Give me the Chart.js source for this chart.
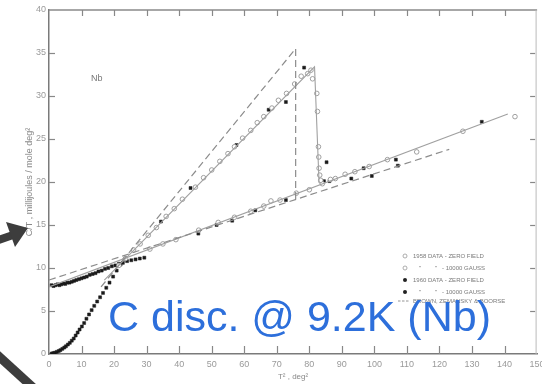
<!DOCTYPE html>
<html><head><meta charset="utf-8">
<script src="https://cdn.jsdelivr.net/npm/chart.js@4/dist/chart.umd.min.js"></script>
<style>html,body{margin:0;padding:0;background:#fff}#wrap{width:542px;height:384px}</style>
</head><body><div id="wrap"><canvas id="c" width="542" height="384"></canvas></div>
<script>
// ---------- data (T^2 in deg^2, C/T in mJ/mole deg^2) ----------
const xTickStep = 10, yTickStep = 5;
const xRange = [0, 150], yRange = [0, 40];

// Brown, Zemansky & Boorse (dashed)
const bzbNormalX = [0, 123];
const bzbNormalY = [8.6, 23.8];
const bzbScX = [16, 75.8, 75.8];
const bzbScY = [7.8, 35.5, 18.0];

// fitted curves (solid)
const normalFitX = [0, 141];
const normalFitY = [7.8, 27.9];
const scFitX = [17, 81.6, 83.0];
const scFitY = [8.6, 33.4, 19.9];

// 1958 data, zero field (open circles)
const open0X = [21.5, 23.5, 26, 28, 30.5, 33, 36, 38.5, 41, 45, 47.5, 50, 52.5, 55, 57, 59.5, 62, 64, 66, 68.5, 70.5, 73, 75.5, 77.5, 79.5, 80.5, 81.0, 82.3, 82.5, 82.8, 82.9, 83.0, 83.2, 83.5];
const open0Y = [10.3, 11.1, 12.1, 12.8, 13.8, 14.7, 16.0, 16.9, 18.0, 19.4, 20.5, 21.4, 22.4, 23.3, 24.1, 25.1, 26.0, 26.9, 27.6, 28.6, 29.5, 30.3, 31.4, 32.3, 32.6, 33.0, 32.0, 30.3, 28.2, 24.1, 22.9, 21.6, 20.8, 20.2];

// 1958 data, 10000 gauss (open circles)
const openHX = [31, 35, 39, 46, 52, 57, 62, 66, 68.2, 71, 76, 80, 84, 86.5, 88, 91, 94, 98.4, 104, 113, 127.2, 143.2];
const openHY = [12.2, 12.8, 13.3, 14.4, 15.3, 15.9, 16.6, 17.2, 17.8, 17.9, 18.7, 19.1, 19.8, 20.3, 20.4, 20.9, 21.2, 21.8, 22.6, 23.5, 25.9, 27.6];

// 1960 data, zero field (filled)
const fill0X = [0.8, 1.3, 1.8, 2.4, 3.0, 3.5, 4.1, 4.7, 5.2, 5.8, 6.4, 7.0, 7.6, 8.2, 8.8, 9.4, 10.1, 10.8, 11.5, 12.3, 13.1, 13.9, 14.8, 15.7, 16.6, 17.6, 18.6, 19.7, 20.8, 22.0, 23.2,
                34.4, 43.5, 57.6, 67.5, 72.8, 78.4, 85.3, 83.8, 84.5, 86.2];
const fill0Y = [0.05, 0.1, 0.15, 0.25, 0.35, 0.45, 0.6, 0.75, 0.9, 1.1, 1.3, 1.55, 1.8, 2.15, 2.5, 2.85, 3.2, 3.6, 4.1, 4.6, 5.1, 5.6, 6.1, 6.6, 7.1, 7.7, 8.3, 9.0, 9.7, 10.4, 11.0,
                15.4, 19.3, 24.3, 28.4, 29.3, 33.3, 22.3, 19.9, 20.1, 20.1];

// 1960 data, 10000 gauss (filled)
const fillHX = [0.8, 1.4, 2.0, 2.6, 3.2, 3.8, 4.4, 5.0, 5.6, 6.3, 7.0, 7.7, 8.4, 9.2, 10.0, 10.8, 11.6, 12.5, 13.4, 14.3, 15.2, 16.2, 17.2, 18.2, 19.3, 20.4, 21.5, 22.7, 24.0, 25.3, 26.6, 27.9, 29.3,
                45.9, 51.5, 56.3, 63.4, 72.8, 92.9, 96.7, 99.2, 106.6, 107.2, 133];
const fillHY = [8.0, 7.9, 8.0, 8.1, 8.0, 8.1, 8.2, 8.15, 8.3, 8.3, 8.4, 8.5, 8.6, 8.7, 8.8, 8.9, 9.0, 9.2, 9.3, 9.4, 9.6, 9.7, 9.9, 10.0, 10.2, 10.3, 10.5, 10.6, 10.8, 10.9, 11.0, 11.1, 11.2,
                14.0, 15.0, 15.5, 16.7, 17.9, 20.4, 21.6, 20.7, 22.6, 21.9, 27.0];

const legendLabels = ['1958 DATA - ZERO FIELD', '- 10000 GAUSS', '1960 DATA - ZERO FIELD', '- 10000 GAUSS', 'BROWN, ZEMANSKY & BOORSE'];
const xTitle = 'T\u00B2 , deg\u00B2';
const yTitle = 'C/T , millijoules / mole deg\u00B2';
const sampleLabel = 'Nb';
const overlayText = 'C disc. @ 9.2K (Nb)';

// ---------- build ----------
const pts = (xs, ys) => xs.map((x, i) => ({x, y: ys[i]}));
const FONT = '"Liberation Sans", Arial, sans-serif';
const lineDs = (xs, ys, color, dash, w) => ({type: 'line', data: pts(xs, ys), borderColor: color, borderWidth: w, borderDash: dash, pointRadius: 0, fill: false, tension: 0, showLine: true});
const pointDs = (xs, ys, style, r, fillC, strokeC, bw) => ({type: 'scatter', data: pts(xs, ys), pointStyle: style, pointRadius: r, backgroundColor: fillC, borderColor: strokeC, borderWidth: bw, showLine: false});

const deco = {
  id: 'deco',
  afterDraw(chart) {
    const ctx = chart.ctx, a = chart.chartArea, xs = chart.scales.x, ys = chart.scales.y;
    ctx.save();
    // frame top & right
    ctx.strokeStyle = '#8a8a8a'; ctx.lineWidth = 1.5;
    ctx.beginPath(); ctx.moveTo(a.left, a.top); ctx.lineTo(a.right, a.top); ctx.stroke();
    ctx.lineWidth = 1; ctx.strokeStyle = '#bbb';
    ctx.beginPath(); ctx.moveTo(a.right - 1, a.top); ctx.lineTo(a.right - 1, a.bottom); ctx.stroke();
    // inward tick marks
    ctx.strokeStyle = '#888'; ctx.lineWidth = 1.2;
    xs.ticks.forEach(t => {
      if (t.value <= xRange[0] || t.value >= xRange[1]) return;
      const px = Math.round(xs.getPixelForValue(t.value)) + 0.5;
      ctx.beginPath(); ctx.moveTo(px, a.bottom); ctx.lineTo(px, a.bottom - 8); ctx.stroke();
      ctx.beginPath(); ctx.moveTo(px, a.top); ctx.lineTo(px, a.top + 6); ctx.stroke();
    });
    ys.ticks.forEach(t => {
      if (t.value <= yRange[0] || t.value >= yRange[1]) return;
      const py = Math.round(ys.getPixelForValue(t.value)) + 0.5;
      ctx.beginPath(); ctx.moveTo(a.left, py); ctx.lineTo(a.left + 6, py); ctx.stroke();
      ctx.beginPath(); ctx.moveTo(a.right - 2, py); ctx.lineTo(a.right - 7, py); ctx.stroke();
    });
    // sample label
    ctx.fillStyle = '#777'; ctx.font = '9px ' + FONT; ctx.textBaseline = 'alphabetic'; ctx.textAlign = 'left';
    ctx.fillText(sampleLabel, 91, 81);
    // legend
    ctx.font = '6px ' + FONT; ctx.fillStyle = '#7a7a7a';
    const rows = [256, 268, 280, 292];
    rows.forEach((y, i) => {
      ctx.beginPath(); ctx.arc(405, y, 2, 0, Math.PI * 2);
      if (i < 2) { ctx.fillStyle = '#fff'; ctx.fill(); ctx.strokeStyle = '#999'; ctx.lineWidth = 0.8; ctx.stroke(); }
      else { ctx.fillStyle = '#222'; ctx.fill(); }
      ctx.fillStyle = '#7a7a7a';
      if (i % 2 === 0) ctx.fillText(legendLabels[i], 413, y + 2);
      else { ctx.fillText('"', 419, y + 2); ctx.fillText('"', 435, y + 2); ctx.fillText(legendLabels[i], 442, y + 2); }
    });
    ctx.strokeStyle = '#888'; ctx.lineWidth = 0.9; ctx.setLineDash([2.5, 1.5]);
    ctx.beginPath(); ctx.moveTo(398, 301); ctx.lineTo(410, 301); ctx.stroke(); ctx.setLineDash([]);
    ctx.fillText(legendLabels[4], 413, 303);
    // slide overlay: blue caption
    ctx.fillStyle = '#2d6fdb'; ctx.font = '43px ' + FONT;
    ctx.fillText(overlayText, 108, 331);
    // slide overlay: arrows
    ctx.fillStyle = '#3d3d3d'; ctx.strokeStyle = '#3d3d3d';
    ctx.lineWidth = 8; ctx.lineCap = 'butt';
    ctx.beginPath(); ctx.moveTo(-4, 241); ctx.lineTo(13, 235); ctx.stroke();
    ctx.beginPath(); ctx.moveTo(28, 228); ctx.lineTo(6, 222); ctx.lineTo(15, 247); ctx.closePath(); ctx.fill();
    ctx.lineWidth = 9;
    ctx.beginPath(); ctx.moveTo(-6, 352); ctx.lineTo(38, 392); ctx.stroke();
    ctx.restore();
  }
};

new Chart(document.getElementById('c'), {
  data: {
    datasets: [
      lineDs(bzbNormalX, bzbNormalY, '#8c8c8c', [7, 4], 1.2),
      lineDs(bzbScX, bzbScY, '#8c8c8c', [7, 4], 1.2),
      lineDs(normalFitX, normalFitY, '#a0a0a0', [], 1.1),
      lineDs(scFitX, scFitY, '#a0a0a0', [], 1.1),
      pointDs(open0X, open0Y, 'circle', 2.3, '#fff', '#959595', 0.9),
      pointDs(openHX, openHY, 'circle', 2.3, '#fff', '#959595', 0.9),
      pointDs(fill0X, fill0Y, 'rect', 2.1, '#1a1a1a', '#1a1a1a', 0.5),
      pointDs(fillHX, fillHY, 'rect', 2.1, '#1a1a1a', '#1a1a1a', 0.5)
    ]
  },
  options: {
    responsive: false, animation: false, devicePixelRatio: 1,
    layout: {padding: {top: 10, right: 1, left: 0, bottom: 0}},
    plugins: {legend: {display: false}, tooltip: {enabled: false}},
    scales: {
      x: {
        type: 'linear', min: xRange[0], max: xRange[1],
        grid: {display: false, drawTicks: false},
        border: {display: true, color: '#7a7a7a', width: 1.5},
        ticks: {stepSize: xTickStep, autoSkip: false, maxRotation: 0, padding: 5, color: '#9a9a9a', font: {family: FONT, size: 9}},
        title: {display: true, text: xTitle, color: '#888', font: {family: FONT, size: 8}, padding: {top: 0, bottom: 2}},
        afterFit(s) { s.height = 30; s.paddingLeft = 0; s.paddingRight = 0; }
      },
      y: {
        type: 'linear', min: yRange[0], max: yRange[1],
        grid: {display: false, drawTicks: false},
        border: {display: true, color: '#7a7a7a', width: 1.5},
        ticks: {stepSize: yTickStep, padding: 3, color: '#9a9a9a', font: {family: FONT, size: 9}},
        title: {display: true, text: yTitle, color: '#888', font: {family: FONT, size: 9}, padding: {top: 24, bottom: 0}},
        afterFit(s) { s.width = 49; s.paddingTop = 0; s.paddingBottom = 0; }
      }
    }
  },
  plugins: [deco]
});
</script>
</body></html>
